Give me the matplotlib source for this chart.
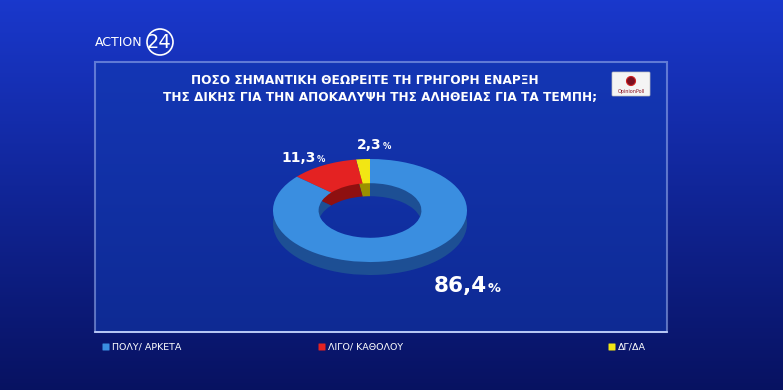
import numpy as np
import matplotlib.pyplot as plt
from matplotlib.patches import Rectangle, FancyBboxPatch, Ellipse

# Data
labels = ["ΠΟΛΥ/ ΑΡΚΕΤΑ", "ΛΙΓΟ/ ΚΑΘΟΛΟΥ", "ΔΓ/ΔΑ"]
values = [86.4, 11.3, 2.3]
colors = ["#3a8ee0", "#e42222", "#f2e614"]
dark_colors = ["#1d4f94", "#8e1010", "#9a9000"]
title_lines = ["ΠΟΣΟ ΣΗΜΑΝΤΙΚΗ ΘΕΩΡΕΙΤΕ ΤΗ ΓΡΗΓΟΡΗ ΕΝΑΡΞΗ",
               "ΤΗΣ ΔΙΚΗΣ ΓΙΑ ΤΗΝ ΑΠΟΚΑΛΥΨΗ ΤΗΣ ΑΛΗΘΕΙΑΣ ΓΙΑ ΤΑ ΤΕΜΠΗ;"]

W, H = 783, 390
fig = plt.figure(figsize=(W / 100, H / 100), dpi=100)

# background in pixel coordinates
bg = fig.add_axes([0, 0, 1, 1])
bg.set_xlim(0, W)
bg.set_ylim(H, 0)
bg.axis("off")

yy, xx = np.mgrid[0:H, 0:W]
top = np.array([0.10, 0.22, 0.80])
bot = np.array([0.03, 0.07, 0.38])
t = (yy / H)[..., None]
grad = top * (1 - t) + bot * t
bg.imshow(np.clip(grad, 0, 1), extent=[0, W, H, 0], aspect="auto", zorder=0)

# chart panel
bg.add_patch(Rectangle((95, 62), 572, 270, facecolor="#123ab0", alpha=0.55,
                       edgecolor="#9fb4f0", linewidth=1.5, zorder=1))
bg.plot([95, 667], [332, 332], color="#c8d6ff", lw=1.2, zorder=2)

# logo
bg.text(95, 42, "ACTION", color="white", fontsize=9, va="center", ha="left", zorder=3)
bg.text(159, 42, "24", color="white", fontsize=14, va="center", ha="center", zorder=3)
bg.add_patch(Ellipse((160, 42), 26, 26, fill=False, edgecolor="white", lw=1.2, zorder=3))

# opinion poll logo
bg.add_patch(FancyBboxPatch((613, 73), 36, 22, boxstyle="round,pad=1",
                            facecolor="#f4f4f4", edgecolor="#c0c0c0", lw=0.5, zorder=3))
bg.add_patch(Ellipse((631, 81), 9, 9, facecolor="#7a1020", edgecolor="#d02020", lw=0.8, zorder=4))
bg.text(631, 91, "OpinionPoll", fontsize=3.5, color="#8a1020", ha="center", va="center", zorder=4)

# title
bg.text(365, 80, title_lines[0], color="white", fontsize=8.7, fontweight="bold",
        ha="center", va="center", zorder=3)
bg.text(380, 97, title_lines[1], color="white", fontsize=8.7, fontweight="bold",
        ha="center", va="center", zorder=3)

# donut: depth layer then top surface
def donut_axes(x0, y0, w, h):
    ax = fig.add_axes([x0 / W, 1 - (y0 + h) / H, w / W, h / H])
    ax.axis("off")
    return ax

def draw_ring(ax, cols):
    ax.pie(values[::-1], colors=cols[::-1], startangle=90, counterclock=True,
           radius=1, wedgeprops=dict(width=0.47, edgecolor="none"), frame=False)
    ax.set_aspect("auto")
    ax.set_xlim(-1, 1)
    ax.set_ylim(-1, 1)

ax_depth = donut_axes(273, 172, 194, 103)
draw_ring(ax_depth, dark_colors)
ax_top = donut_axes(273, 159, 194, 103)
draw_ring(ax_top, colors)

# value labels
def pct_label(x, y, num, size):
    bg.text(x, y, num, color="white", fontsize=size, fontweight="bold",
            ha="right", va="baseline", zorder=5)
    bg.text(x + 1, y, "%", color="white", fontsize=size * 0.6, fontweight="bold",
            ha="left", va="baseline", zorder=5)

pct_label(487, 292, "86,4", 15.5)
pct_label(316, 162, "11,3", 10)
pct_label(382, 149, "2,3", 10)

# legend
leg_x = [103, 319, 609]
for x, lab, c in zip(leg_x, labels, colors):
    bg.add_patch(FancyBboxPatch((x, 344), 6, 6, boxstyle="round,pad=0.5",
                                facecolor=c, edgecolor="none", zorder=3))
    bg.text(x + 9, 347.5, lab, color="white", fontsize=6.8, ha="left", va="center", zorder=3)

fig.savefig("out.png", dpi=100)
